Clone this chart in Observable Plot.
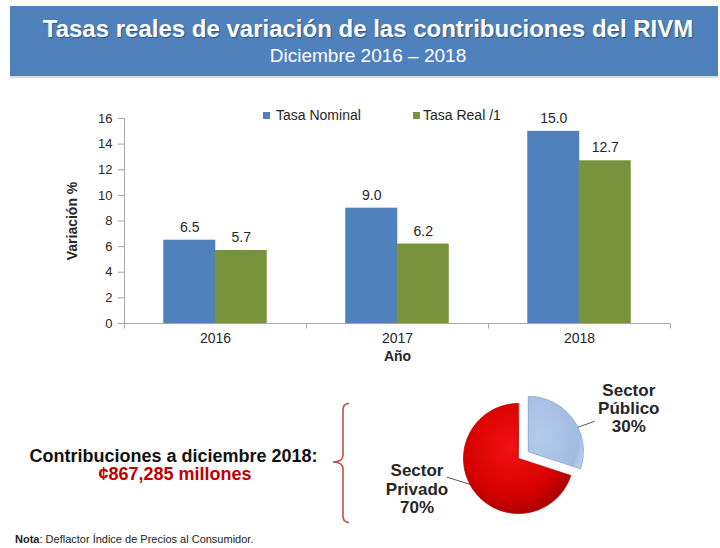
<!DOCTYPE html>
<html><head><meta charset="utf-8">
<script src="https://cdn.jsdelivr.net/npm/d3@7"></script>
<script src="https://cdn.jsdelivr.net/npm/@observablehq/plot@0.6"></script>
<style>
body{margin:0;background:#fff;font-family:"Liberation Sans",Arial,sans-serif;}
#root{position:relative;width:720px;height:548px;overflow:hidden;background:#fff;}
.abs{position:absolute;white-space:nowrap;}
#header{left:10px;top:6px;width:708px;height:70px;background:#4f81bd;box-shadow:0 2px 0 #d2dcea;}
#title{left:0;width:736px;top:17px;text-align:center;color:#fff;font-weight:bold;font-size:24px;line-height:24px;text-shadow:1px 1px 1px rgba(0,0,0,0.35);}
#subtitle{left:0;width:736px;top:46px;text-align:center;color:#fff;font-size:19px;line-height:19px;}
.leg{font-size:14px;line-height:14px;color:#262626;}
.sw{width:7px;height:7px;}
#total1{left:0;width:347px;top:447px;text-align:center;font-weight:bold;font-size:18px;line-height:18px;color:#111;}
#total2{left:0;width:350px;top:465px;text-align:center;font-weight:bold;font-size:18px;line-height:18px;color:#c00000;}
#nota{left:15px;top:534px;font-size:11px;line-height:11px;color:#222;}
g[aria-label="y-axis tick"]{stroke:#a6a6a6;}
</style>
</head><body>
<div id="root">
  <div id="header" class="abs"></div>
  <div id="title" class="abs"></div>
  <div id="subtitle" class="abs"></div>
  <div id="bars" class="abs" style="left:0;top:90px;"></div>
  <div id="legend"></div>
  <div id="total1" class="abs"></div>
  <div id="total2" class="abs"></div>
  <svg class="abs" style="left:0;top:0;" width="720" height="548" pointer-events="none">
    <path d="M349,403.5 Q343,403.5 343,410 L343,455 Q343,462 333,462 Q343,462 343,469 L343,516 Q343,522.5 349,522.5" fill="none" stroke="#c0504d" stroke-width="1.6"/>
  </svg>
  <div id="pie" class="abs" style="left:365px;top:370px;"></div>
  <div id="nota" class="abs"></div>
</div>
<script>
// ---------- data ----------
const titleText = "Tasas reales de variación de las contribuciones del RIVM";
const subtitleText = "Diciembre 2016 – 2018";
const years = ["2016", "2017", "2018"];
const seriesNames = ["Tasa Nominal", "Tasa Real /1"];
const tasaNominal = [6.5, 9.0, 15.0];
const tasaReal = [5.7, 6.2, 12.7];
const yTicks = [0, 2, 4, 6, 8, 10, 12, 14, 16];
const yLabel = "Variación %";
const xLabel = "Año";
const sectores = ["Sector Público", "Sector Privado"];
const participacion = [30, 70];
const totalLabel = "Contribuciones a diciembre 2018:";
const totalValue = "¢867,285 millones";
const notaBold = "Nota";
const notaText = ": Deflactor Índice de Precios al Consumidor.";

const colors = ["#4f81bd", "#77933c"];

document.getElementById("title").textContent = titleText;
document.getElementById("subtitle").textContent = subtitleText;
document.getElementById("total1").textContent = totalLabel;
document.getElementById("total2").textContent = totalValue;
document.getElementById("nota").innerHTML = "<b>" + notaBold + "</b>" + notaText;

// legend
const legend = document.getElementById("legend");
const legPos = [{sx: 263, tx: 276}, {sx: 413, tx: 423}];
seriesNames.forEach((s, i) => {
  const sw = document.createElement("div");
  sw.className = "abs sw";
  sw.style.left = legPos[i].sx + "px"; sw.style.top = "112px"; sw.style.background = colors[i];
  legend.appendChild(sw);
  const t = document.createElement("div");
  t.className = "abs leg";
  t.style.left = legPos[i].tx + "px"; t.style.top = "108px";
  t.textContent = s;
  legend.appendChild(t);
});

// ---------- bar chart ----------
const rows = years.flatMap((y, i) => [
  {year: y, serie: seriesNames[0], value: tasaNominal[i]},
  {year: y, serie: seriesNames[1], value: tasaReal[i]}
]);
const nom = rows.filter(d => d.serie === seriesNames[0]);
const real = rows.filter(d => d.serie === seriesNames[1]);
const half = 25.75;

const axisFrame = (index, scales, values, dims) => {
  const {width, height, marginLeft, marginRight, marginTop, marginBottom} = dims;
  const g = d3.create("svg:g").attr("stroke", "#a6a6a6").attr("fill", "none");
  const yb = height - marginBottom + 0.5;
  g.append("line").attr("x1", marginLeft + 0.5).attr("x2", marginLeft + 0.5).attr("y1", marginTop).attr("y2", yb);
  const w = width - marginLeft - marginRight;
  for (let i = 0; i <= years.length; i++) {
    const x = Math.round(marginLeft + i * w / years.length) + 0.5;
    g.append("line").attr("x1", x).attr("x2", x).attr("y1", yb).attr("y2", yb + 5);
  }
  return g.node();
};

const barPlot = Plot.plot({
  width: 720, height: 280,
  marginLeft: 124, marginRight: 50, marginTop: 28, marginBottom: 47,
  style: {fontFamily: '"Liberation Sans", Arial, sans-serif', fontSize: "13px", color: "#262626", background: "transparent", overflow: "visible"},
  x: {domain: years, paddingInner: 0.717, paddingOuter: 0.3585, axis: null},
  y: {domain: [0, 16], axis: null},
  marks: [
    Plot.barY(nom, {x: "year", y: "value", fill: colors[0], dx: -half}),
    Plot.barY(real, {x: "year", y: "value", fill: colors[1], dx: half}),
    Plot.ruleY([0], {stroke: "#a6a6a6"}),
    axisFrame,
    Plot.axisY({ticks: yTicks, tickSize: 6, tickPadding: 6, tickFormat: d => d, label: null, fontSize: 13}),
    Plot.text([yLabel], {text: d => d, frameAnchor: "left", rotate: -90, dx: -52, fontWeight: "bold", fontSize: 14, lineAnchor: "middle", textAnchor: "middle"}),
    Plot.axisX({tickSize: 0, tickPadding: 10, fontSize: 14, label: null}),
    Plot.text([xLabel], {text: d => d, frameAnchor: "bottom", lineAnchor: "middle", dy: 33, fontWeight: "bold", fontSize: 14}),
    Plot.text(nom, {x: "year", y: "value", text: d => d.value.toFixed(1), dx: -half, dy: -13, fontSize: 14}),
    Plot.text(real, {x: "year", y: "value", text: d => d.value.toFixed(1), dx: half, dy: -13, fontSize: 14})
  ]
});
document.getElementById("bars").appendChild(barPlot);

// ---------- pie chart ----------
const pieRows = sectores.map((s, i) => ({name: s, value: participacion[i]}));
const arcs = d3.pie().sort(null).value(d => d.value)(pieRows);
const R = 1, explode = 0.22;
const pts = [];
const geo = {};
arcs.forEach(a => {
  const name = a.data.name;
  const mid = (a.startAngle + a.endAngle) / 2;
  const off = name === sectores[0] ? explode : 0;
  const cx = off * Math.sin(mid), cy = -off * Math.cos(mid);
  geo[name] = {cx, cy, mid, a};
  pts.push({name, x: cx, y: cy});
  const n = Math.ceil((a.endAngle - a.startAngle) / 0.02);
  for (let i = 0; i <= n; i++) {
    const t = a.startAngle + (a.endAngle - a.startAngle) * i / n;
    pts.push({name, x: cx + R * Math.sin(t), y: cy - R * Math.cos(t)});
  }
});
const labelRows = arcs.map(a => {
  const g = geo[a.data.name];
  return {name: a.data.name, x: g.cx + R * Math.sin(g.mid), y: g.cy - R * Math.cos(g.mid),
          text: a.data.name.replace(" ", "\n") + "\n" + a.data.value + "%"};
});
// leader lines: start on slice rim, short outward segment toward label
const leaderAngle = {[sectores[0]]: 64 * Math.PI / 180, [sectores[1]]: 242 * Math.PI / 180};
const leaderVec = {[sectores[0]]: [0.31, -0.11], [sectores[1]]: [-0.42, -0.13]};
const leaders = sectores.map(s => {
  const g = geo[s], t = leaderAngle[s];
  const x1 = g.cx + R * Math.sin(t), y1 = g.cy - R * Math.cos(t);
  return {x1, y1, x2: x1 + leaderVec[s][0], y2: y1 + leaderVec[s][1]};
});

const PW = 330, PH = 175, K = 55, OX = 153, OY = 88;
const pieDefs = () => {
  const defs = d3.create("svg:defs");
  const rg = defs.append("radialGradient").attr("id", "gradPriv").attr("cx", "45%").attr("cy", "40%").attr("r", "62%");
  rg.append("stop").attr("offset", "0%").attr("stop-color", "#f21212");
  rg.append("stop").attr("offset", "70%").attr("stop-color", "#d60000");
  rg.append("stop").attr("offset", "100%").attr("stop-color", "#a80000");
  const bg = defs.append("radialGradient").attr("id", "gradPub").attr("cx", "20%").attr("cy", "55%").attr("r", "90%");
  bg.append("stop").attr("offset", "0%").attr("stop-color", "#b4cbea");
  bg.append("stop").attr("offset", "80%").attr("stop-color", "#a1bce2");
  bg.append("stop").attr("offset", "100%").attr("stop-color", "#c9d9ef");
  return defs.node();
};

const piePlot = Plot.plot({
  width: PW, height: PH, margin: 0,
  style: {fontFamily: '"Liberation Sans", Arial, sans-serif', background: "transparent", overflow: "visible"},
  x: {domain: [-OX / K, (PW - OX) / K], range: [0, PW], axis: null},
  y: {domain: [-OY / K, (PH - OY) / K], range: [0, PH], axis: null},
  marks: [
    pieDefs,
    Plot.line(pts.filter(d => d.name === sectores[1]), {x: "x", y: "y", curve: "linear-closed", fill: "url(#gradPriv)", stroke: "#b80000", strokeWidth: 0.8}),
    Plot.line(pts.filter(d => d.name === sectores[0]), {x: "x", y: "y", curve: "linear-closed", fill: "url(#gradPub)", stroke: "#8eaad3", strokeWidth: 1}),
    Plot.link(leaders, {x1: "x1", y1: "y1", x2: "x2", y2: "y2", stroke: "#595959", strokeWidth: 1}),
    Plot.text(labelRows.filter(d => d.name === sectores[0]), {x: "x", y: "y", text: "text", dx: 56, dy: -11, fontWeight: "bold", fontSize: 17, lineHeight: 1.08, fill: "#262626"}),
    Plot.text(labelRows.filter(d => d.name === sectores[1]), {x: "x", y: "y", text: "text", dx: -57, dy: -2, fontWeight: "bold", fontSize: 17, lineHeight: 1.08, fill: "#262626"})
  ]
});
document.getElementById("pie").appendChild(piePlot);
</script>
</body></html>
